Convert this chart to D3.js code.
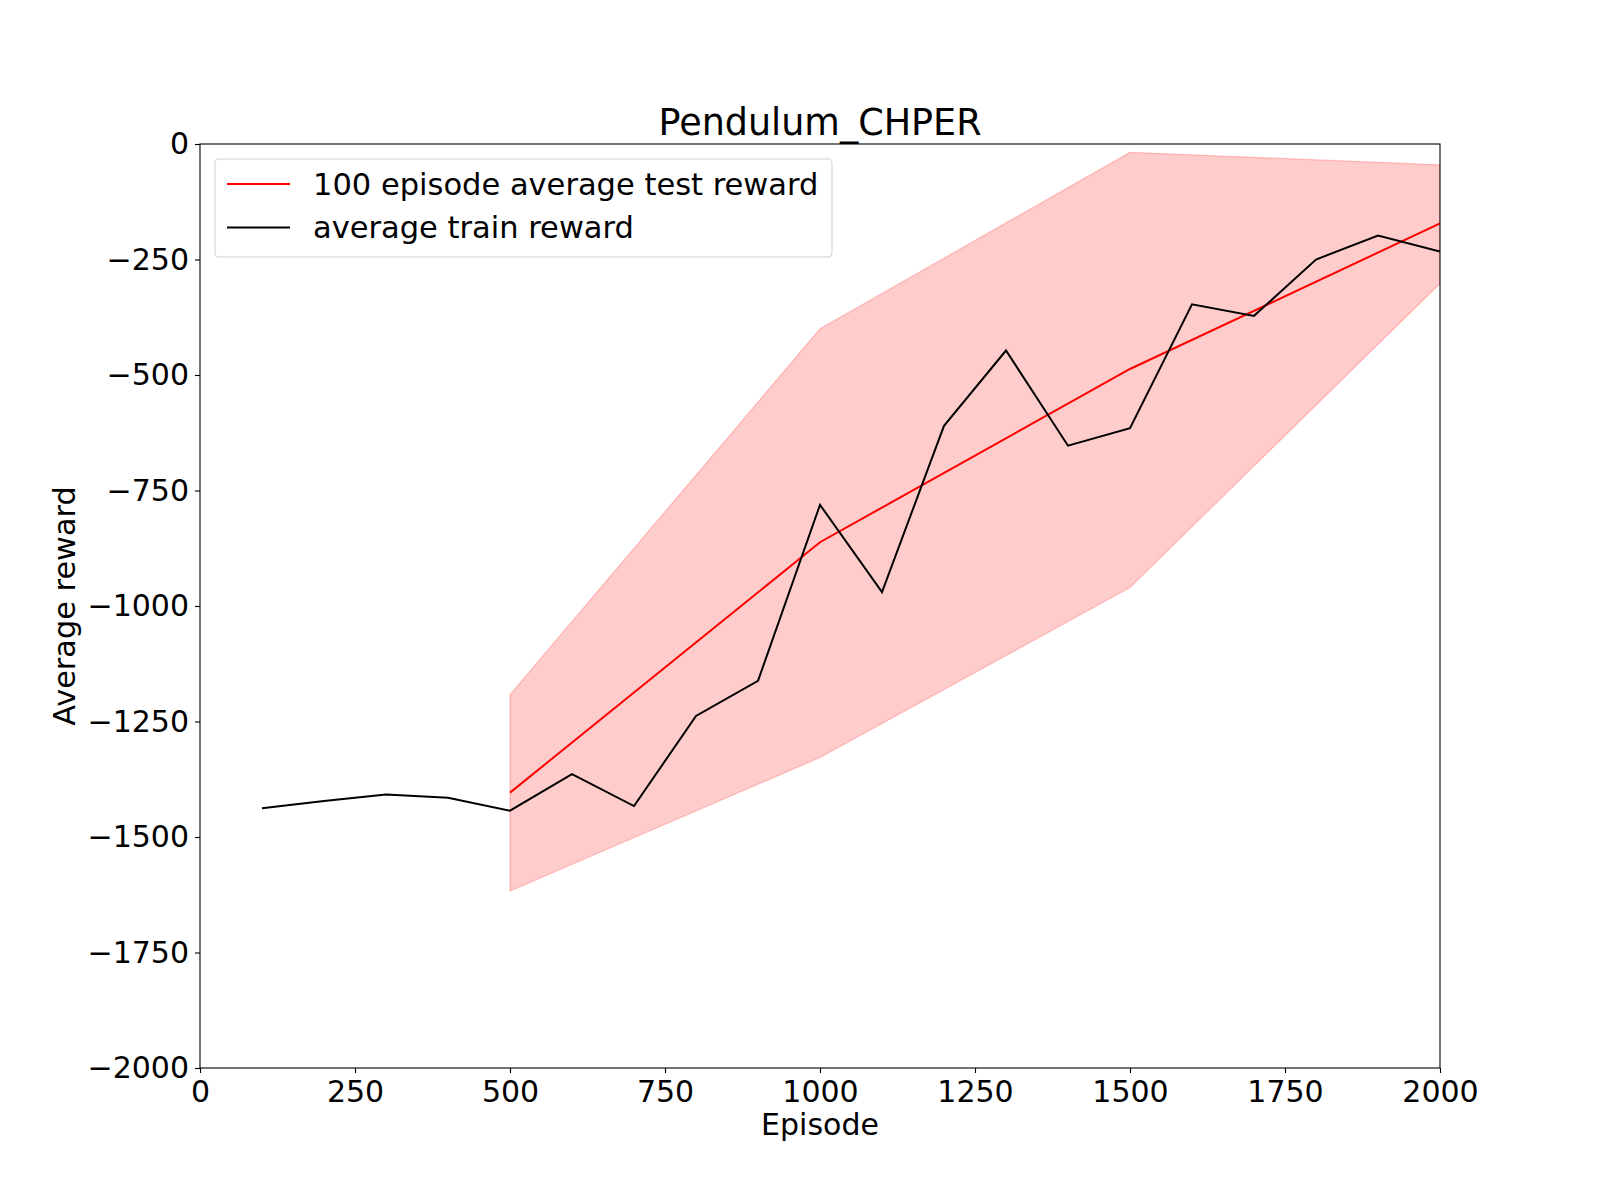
<html>
<head>
    <meta charset="utf-8">
    <title>Pendulum_CHPER</title>
    <style>
        body { margin: 0; background: #fff; }
        text { font-family: "DejaVu Sans", sans-serif; }
    </style>
</head>
<body>
<script src="https://cdn.jsdelivr.net/npm/d3@7"></script>
<script>
    // data
    var trainEpisodes = [100, 200, 300, 400, 500, 600, 700, 800, 900, 1000, 1100, 1200, 1300, 1400, 1500, 1600, 1700, 1800, 1900, 2000];
    var trainReward = [-1438, -1422, -1408, -1415, -1443, -1364, -1433, -1238, -1162, -781, -970, -610, -447, -653, -615, -347, -372, -250, -198, -233];
    var testEpisodes = [500, 1000, 1500, 2000];
    var testReward = [-1404, -862, -487, -172];
    var testUpper = [-1192, -400, -18, -45];
    var testLower = [-1617, -1328, -960, -302];
    var xTicks = [0, 250, 500, 750, 1000, 1250, 1500, 1750, 2000];
    var yTicks = [0, -250, -500, -750, -1000, -1250, -1500, -1750, -2000];

    var width = 1600, height = 1200;
    var plotL = 200, plotR = 1440, plotT = 144, plotB = 1068;

    var svg = d3.select('body').append('svg')
            .attr('width', width)
            .attr('height', height);

    var x = d3.scaleLinear().domain([0, 2000]).range([plotL, plotR]);
    var y = d3.scaleLinear().domain([-2000, 0]).range([plotB, plotT]);

    svg.append('clipPath').attr('id', 'plotclip')
            .append('rect')
            .attr('x', plotL).attr('y', plotT)
            .attr('width', plotR - plotL).attr('height', plotB - plotT);

    var plot = svg.append('g').attr('clip-path', 'url(#plotclip)');

    // shaded band
    var band = testEpisodes.map(function(e, i) {
        return {e: e, lo: testLower[i], hi: testUpper[i]};
    });
    var area = d3.area()
            .x(function(d) { return x(d.e); })
            .y0(function(d) { return y(d.lo); })
            .y1(function(d) { return y(d.hi); });
    plot.append('path')
            .datum(band)
            .attr('d', area)
            .attr('fill', 'red')
            .attr('fill-opacity', 0.2)
            .attr('stroke', 'red')
            .attr('stroke-opacity', 0.2)
            .attr('stroke-width', 1.3);

    var line = d3.line()
            .x(function(d) { return x(d[0]); })
            .y(function(d) { return y(d[1]); });

    plot.append('path')
            .datum(d3.zip(testEpisodes, testReward))
            .attr('d', line)
            .attr('fill', 'none')
            .attr('stroke', 'red')
            .attr('stroke-width', 2);

    plot.append('path')
            .datum(d3.zip(trainEpisodes, trainReward))
            .attr('d', line)
            .attr('fill', 'none')
            .attr('stroke', 'black')
            .attr('stroke-width', 2);

    // axes
    var xAxis = d3.axisBottom(x).tickValues(xTicks).tickSize(5).tickPadding(6)
            .tickFormat(d3.format('d'));
    var yAxis = d3.axisLeft(y).tickValues(yTicks).tickSize(5).tickPadding(6)
            .tickFormat(function(d) { return d < 0 ? '\u2212' + Math.abs(d) : d; });

    var gx = svg.append('g').attr('transform', 'translate(0,' + plotB + ')').call(xAxis);
    var gy = svg.append('g').attr('transform', 'translate(' + plotL + ',0)').call(yAxis);
    [gx, gy].forEach(function(g) {
        g.select('.domain').remove();
        g.selectAll('line').attr('stroke', 'black').attr('stroke-width', 1.1);
        g.selectAll('text').attr('font-size', 30).attr('fill', 'black')
                .style('font-family', '"DejaVu Sans", sans-serif');
    });
    gx.selectAll('text').attr('dy', '0.78em');

    // frame
    svg.append('rect')
            .attr('x', plotL).attr('y', plotT)
            .attr('width', plotR - plotL).attr('height', plotB - plotT)
            .attr('fill', 'none')
            .attr('stroke', 'black')
            .attr('stroke-width', 1.1);

    // labels
    svg.append('text')
            .attr('x', (plotL + plotR) / 2).attr('y', 135)
            .attr('text-anchor', 'middle')
            .attr('font-size', 36.5)
            .text('Pendulum_CHPER');
    svg.append('text')
            .attr('x', (plotL + plotR) / 2).attr('y', 1135)
            .attr('text-anchor', 'middle')
            .attr('font-size', 30)
            .text('Episode');
    svg.append('text')
            .attr('transform', 'translate(75,' + ((plotT + plotB) / 2) + ') rotate(-90)')
            .attr('text-anchor', 'middle')
            .attr('font-size', 30.4)
            .text('Average reward');

    // legend
    var legendItems = [
        {label: '100 episode average test reward', color: 'red'},
        {label: 'average train reward', color: 'black'}
    ];
    var lg = svg.append('g');
    lg.append('rect')
            .attr('x', 215).attr('y', 159)
            .attr('width', 617).attr('height', 98)
            .attr('rx', 4)
            .attr('fill', 'white').attr('fill-opacity', 0.8)
            .attr('stroke', '#d3d3d3').attr('stroke-width', 1.1);
    var rows = lg.selectAll('g.item')
            .data(legendItems)
            .enter()
            .append('g')
            .attr('class', 'item')
            .attr('transform', function(d, i) { return 'translate(0,' + (184 + i * 43.5) + ')'; });
    rows.append('line')
            .attr('x1', 227).attr('x2', 290)
            .attr('y1', 0).attr('y2', 0)
            .attr('stroke', function(d) { return d.color; })
            .attr('stroke-width', 2);
    rows.append('text')
            .attr('x', 313).attr('y', 0)
            .attr('dy', '0.36em')
            .attr('font-size', 30.5)
            .text(function(d) { return d.label; });
</script>
</body>
</html>
